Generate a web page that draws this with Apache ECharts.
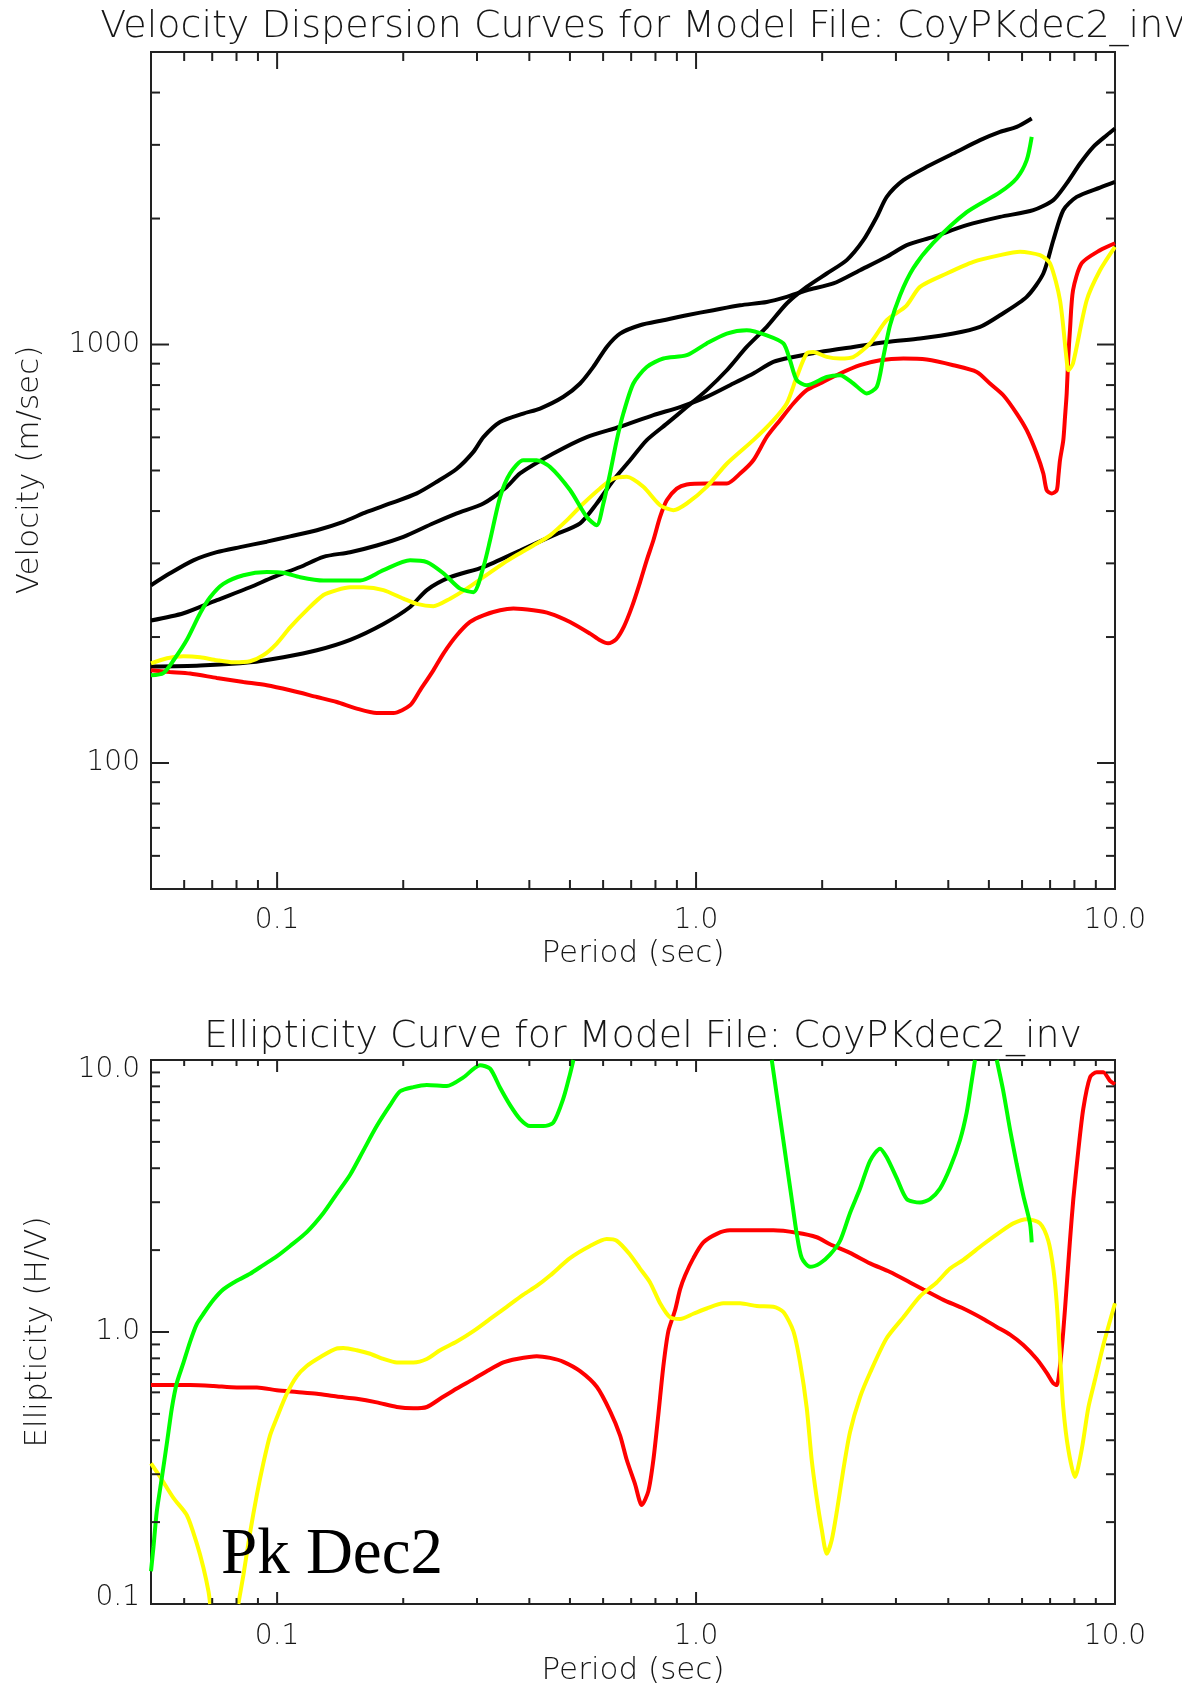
<!DOCTYPE html>
<html>
<head>
<meta charset="utf-8">
<title>CoyPKdec2_inv dispersion and ellipticity</title>
<script src="https://cdn.jsdelivr.net/npm/echarts@6/dist/echarts.min.js"></script>
<style>
  html, body { margin: 0; padding: 0; background: #ffffff; }
  #chart { width: 1182px; height: 1685px; }
</style>
</head>
<body>
<div id="chart"></div>
<script>
// ---------------- axis ranges and ticks ----------------
const periodRange = [0.05, 10];
const velocityRange = [50, 5000];
const ellipticityRange = [0.1, 10];

const periodLabelValues = [0.1, 1, 10];
const periodLabelTexts = ['0.1', '1.0', '10.0'];
const periodMinorTicks = [0.06, 0.07, 0.08, 0.09, 0.2, 0.3, 0.4, 0.5, 0.6, 0.7, 0.8, 0.9, 2, 3, 4, 5, 6, 7, 8, 9];

const velocityLabelValues = [100, 1000];
const velocityLabelTexts = ['100', '1000'];
const velocityMinorTicks = [60, 70, 80, 90, 200, 300, 400, 500, 600, 700, 800, 900, 2000, 3000, 4000];

const ellipLabelValues = [0.1, 1, 10];
const ellipLabelTexts = ['0.1', '1.0', '10.0'];
const ellipMinorTicks = [0.2, 0.3, 0.4, 0.5, 0.6, 0.7, 0.8, 0.9, 2, 3, 4, 5, 6, 7, 8, 9];

// ---------------- dispersion curves: [period s, velocity m/s] ----------------
const dispBlackA = [[0.05,266],[0.0555,284],[0.0631,305],[0.0718,319],[0.0816,328],[0.0945,338],[0.1074,348],[0.1244,360],[0.1439,377],[0.1637,398],[0.1861,417],[0.2155,441],[0.2405,470],[0.2685,505],[0.2941,554],[0.3107,601],[0.3406,653],[0.387,684],[0.4243,703],[0.4824,750],[0.5287,807],[0.5686,884],[0.6121,987],[0.6585,1062],[0.7349,1112],[0.8356,1143],[0.95,1175],[1.10,1208],[1.274,1241],[1.475,1264],[1.646,1300],[1.837,1348],[2.127,1399],[2.463,1505],[2.852,1620],[3.184,1727],[3.684,1808],[4.427,1928],[5.316,2018],[6.383,2094],[7.124,2213],[7.668,2426],[8.253,2708],[8.876,2968],[9.555,3164],[10,3283]];

const dispBlackB = [[0.05,219],[0.0598,228],[0.0718,245],[0.0862,263],[0.098,278],[0.1135,294],[0.129,311],[0.1494,319],[0.1729,331],[0.2002,347],[0.236,374],[0.2685,395],[0.3107,417],[0.3533,457],[0.380,492],[0.4564,549],[0.5485,601],[0.6585,636],[0.791,678],[0.9158,709],[1.060,750],[1.227,807],[1.370,853],[1.529,909],[1.707,934],[1.976,960],[2.374,987],[2.852,1014],[3.424,1034],[4.113,1062],[4.763,1102],[5.316,1175],[6.155,1300],[6.744,1478],[7.124,1775],[7.526,2094],[8.102,2253],[9.209,2372],[10,2447]];

const dispBlackC = [[0.05,170],[0.0655,171],[0.0862,174],[0.1035,179],[0.1244,186],[0.1494,197],[0.1794,215],[0.2077,236],[0.2277,259],[0.2588,278],[0.3107,294],[0.380,322],[0.4564,350],[0.5287,374],[0.5794,417],[0.6348,474],[0.6958,529],[0.7627,591],[0.8514,647],[0.950,709],[1.060,778],[1.184,868],[1.321,987],[1.475,1102],[1.646,1253],[1.837,1373],[2.051,1478],[2.289,1591],[2.508,1775],[2.700,2018],[2.852,2253],[3.125,2470],[3.553,2658],[4.113,2860],[4.763,3078],[5.316,3222],[5.827,3312],[6.327,3469]];

const dispRed = [[0.05,166.5],[0.0555,165],[0.062,163.6],[0.0718,159.7],[0.0831,156.2],[0.0945,153.4],[0.1074,149.2],[0.1244,143.8],[0.1388,139.9],[0.1549,134.9],[0.1729,131.7],[0.1895,131.7],[0.2077,137.4],[0.2194,149.2],[0.236,166.5],[0.2494,182.6],[0.2685,201.9],[0.2888,217.3],[0.3107,225.4],[0.3406,231.7],[0.3664,233.9],[0.4089,231.7],[0.4483,227.6],[0.5003,217.3],[0.5585,203.8],[0.590,196.5],[0.6166,193.2],[0.6443,197.5],[0.6732,212.2],[0.7035,236.8],[0.7349,270.3],[0.7627,305.4],[0.791,340.7],[0.8205,387.3],[0.8514,424.5],[0.8994,452.7],[0.950,462.9],[1.060,465.4],[1.184,465.4],[1.274,491.7],[1.370,529],[1.475,601.4],[1.586,659.3],[1.707,722.8],[1.837,777.7],[1.976,807],[2.207,852.5],[2.463,892.5],[2.749,917.3],[3.125,926],[3.553,920.7],[4.113,892.5],[4.677,860],[5.03,807],[5.413,756.6],[5.827,684],[6.155,624.1],[6.503,548.9],[6.744,491.7],[6.871,448.6],[7.063,440.5],[7.26,448.6],[7.324,482.6],[7.391,529],[7.526,590.6],[7.598,671.4],[7.668,763.8],[7.736,934],[7.807,1082],[7.94,1348],[8.329,1564],[9.209,1680],[10,1746]];

const dispYellow = [[0.05,173],[0.0546,178],[0.0598,180],[0.0655,179],[0.0718,176],[0.0787,174],[0.0862,175],[0.0927,181],[0.0998,193],[0.1074,211],[0.1177,232],[0.129,252],[0.1388,259],[0.1494,263],[0.1607,263],[0.1794,259],[0.2002,247],[0.2155,240],[0.236,237],[0.2588,247],[0.2836,261],[0.3107,278],[0.3468,300],[0.3733,314],[0.4089,331],[0.4483,350],[0.4913,380],[0.5383,417],[0.590,453],[0.6348,478],[0.6831,483],[0.7484,457],[0.8205,413],[0.8828,402],[0.950,417],[1.060,457],[1.184,519],[1.370,591],[1.529,659],[1.646,723],[1.739,837],[1.837,952],[1.905,960],[2.051,934],[2.207,926],[2.374,934],[2.602,1006],[2.852,1143],[3.171,1235],[3.424,1373],[3.966,1478],[4.591,1576],[5.316,1635],[5.933,1665],[6.622,1635],[6.996,1564],[7.391,1276],[7.668,917],[7.736,868],[7.94,902],[8.56,1276],[9.209,1505],[10,1712]];

const dispGreen = [[0.05,162],[0.0535,164],[0.0566,176],[0.0609,197],[0.0655,228],[0.0692,249],[0.0744,268],[0.0831,281],[0.0945,286],[0.1035,285],[0.1135,278],[0.129,273],[0.1578,273],[0.1794,289],[0.2077,305],[0.2277,302],[0.2494,284],[0.2734,261],[0.2941,256],[0.3107,294],[0.3224,341],[0.3406,432],[0.3598,492],[0.387,529],[0.4166,529],[0.4483,510],[0.5003,449],[0.5485,387],[0.5794,370],[0.6008,417],[0.6233,492],[0.6467,591],[0.6705,684],[0.7085,807],[0.7627,884],[0.8356,926],[0.950,943],[1.060,1006],[1.184,1062],[1.321,1082],[1.475,1052],[1.616,1006],[1.676,917],[1.739,822],[1.837,799],[2.051,837],[2.207,845],[2.374,807],[2.555,764],[2.700,792],[2.799,934],[2.904,1112],[3.069,1312],[3.301,1522],[3.678,1746],[4.427,2071],[5.316,2312],[5.827,2497],[6.155,2758],[6.327,3135]];

// ---------------- ellipticity curves: [period s, H/V] ----------------
const ellipRed = [[0.05,0.638],[0.0555,0.638],[0.062,0.638],[0.0705,0.633],[0.0801,0.625],[0.0895,0.625],[0.0998,0.611],[0.1114,0.602],[0.1244,0.593],[0.1388,0.579],[0.1549,0.568],[0.1729,0.551],[0.1931,0.530],[0.2115,0.524],[0.2277,0.530],[0.2449,0.568],[0.2685,0.620],[0.2941,0.671],[0.3166,0.718],[0.3468,0.773],[0.3733,0.796],[0.4166,0.815],[0.4483,0.803],[0.4824,0.777],[0.5287,0.718],[0.5794,0.629],[0.6233,0.512],[0.6585,0.417],[0.6831,0.339],[0.7151,0.276],[0.742,0.231],[0.7694,0.260],[0.791,0.339],[0.8128,0.497],[0.8356,0.750],[0.8588,1.007],[0.891,1.202],[0.9158,1.434],[0.9413,1.613],[0.9853,1.869],[1.041,2.134],[1.121,2.296],[1.205,2.365],[1.346,2.365],[1.529,2.365],[1.739,2.317],[1.941,2.230],[2.088,2.102],[2.331,1.953],[2.602,1.788],[2.904,1.661],[3.241,1.521],[3.487,1.434],[3.893,1.313],[4.345,1.220],[4.850,1.117],[5.221,1.044],[5.616,0.978],[6.041,0.896],[6.503,0.796],[6.871,0.708],[7.124,0.648],[7.26,0.638],[7.391,0.750],[7.526,1.007],[7.668,1.477],[7.807,2.165],[7.953,3.082],[8.174,4.653],[8.401,6.626],[8.716,8.632],[9.045,9.022],[9.378,9.022],[9.730,8.381],[10,8.136]];

const ellipYellowShort = [[0.05,0.329],[0.0526,0.293],[0.0566,0.245],[0.0609,0.212],[0.0643,0.167],[0.0667,0.136],[0.0686,0.111],[0.0692,0.1]];

const ellipYellow = [[0.0808,0.1],[0.0831,0.128],[0.0862,0.183],[0.0895,0.253],[0.0927,0.329],[0.0962,0.417],[0.0998,0.483],[0.1055,0.593],[0.1114,0.687],[0.1177,0.750],[0.1266,0.808],[0.1388,0.870],[0.1439,0.873],[0.1549,0.857],[0.1667,0.832],[0.1794,0.796],[0.1931,0.773],[0.2115,0.773],[0.2277,0.796],[0.2449,0.857],[0.2685,0.922],[0.2941,1.007],[0.3224,1.117],[0.3533,1.238],[0.387,1.372],[0.4166,1.477],[0.4483,1.613],[0.5003,1.869],[0.5585,2.072],[0.6121,2.197],[0.6467,2.165],[0.6958,1.924],[0.7349,1.711],[0.7766,1.521],[0.8205,1.275],[0.8667,1.133],[0.9158,1.117],[0.9853,1.167],[1.060,1.220],[1.162,1.275],[1.274,1.275],[1.396,1.245],[1.529,1.238],[1.616,1.184],[1.707,1.007],[1.771,0.773],[1.837,0.527],[1.888,0.339],[1.941,0.245],[1.995,0.188],[2.051,0.153],[2.108,0.172],[2.167,0.218],[2.246,0.311],[2.331,0.429],[2.463,0.576],[2.602,0.708],[2.852,0.950],[3.125,1.133],[3.424,1.352],[3.753,1.521],[4.039,1.711],[4.345,1.842],[4.850,2.102],[5.316,2.330],[5.719,2.508],[6.155,2.598],[6.622,2.508],[6.931,2.165],[7.124,1.711],[7.26,1.275],[7.391,0.820],[7.526,0.527],[7.736,0.370],[8.026,0.293],[8.329,0.370],[8.637,0.527],[8.959,0.667],[9.378,0.896],[9.730,1.100],[10,1.275]];

const ellipGreenLow = [[0.05,0.132],[0.0507,0.163],[0.0516,0.218],[0.0531,0.293],[0.0546,0.393],[0.0561,0.527],[0.0576,0.648],[0.0598,0.773],[0.062,0.922],[0.0643,1.069],[0.0667,1.167],[0.0705,1.313],[0.0744,1.434],[0.0801,1.543],[0.0862,1.637],[0.0927,1.762],[0.0998,1.897],[0.1074,2.072],[0.1177,2.330],[0.129,2.740],[0.1388,3.221],[0.1494,3.787],[0.1607,4.653],[0.1729,5.716],[0.1861,6.823],[0.1966,7.674],[0.2115,7.951],[0.2277,8.091],[0.2541,8.020],[0.2784,8.632],[0.3051,9.568],[0.3224,9.292],[0.3406,7.905],[0.3598,6.823],[0.380,6.064],[0.4016,5.716],[0.432,5.716],[0.4564,5.888],[0.4824,7.236],[0.5003,8.889],[0.5096,10]];

const ellipGreenMid = [[1.516,10],[1.558,7.451],[1.602,5.552],[1.646,4.137],[1.692,3.082],[1.739,2.296],[1.788,1.869],[1.871,1.736],[1.976,1.788],[2.088,1.924],[2.207,2.165],[2.331,2.740],[2.463,3.367],[2.602,4.261],[2.749,4.722],[2.852,4.387],[3.013,3.678],[3.184,3.082],[3.424,2.992],[3.618,3.082],[3.822,3.367],[4.039,4.016],[4.267,5.082],[4.427,6.434],[4.550,8.381],[4.633,10]];

const ellipGreenHigh = [[5.221,10],[5.413,7.674],[5.616,5.552],[5.827,4.137],[6.041,3.175],[6.268,2.508],[6.327,2.134]];

// ---------------- styling ----------------
const FRAME = '#222222';
const INK = '#161616';
const SANS = '"DejaVu Sans", "Liberation Sans", sans-serif';
const RED = '#ff0000', YELLOW = '#ffff00', GREEN = '#00ff00', BLACK = '#000000';
const CURVE_WIDTH = 4;

function isSame(a, b) {
  return Math.abs(Math.log10(a) - Math.log10(b)) < 1e-6;
}

// Decade labels; other ticks (the range ends) stay blank.
function decadeFormatter(values, texts, nudgeEnds) {
  return function (v) {
    for (let i = 0; i < values.length; i++) {
      if (isSame(v, values[i])) {
        if (nudgeEnds && i === 0) return '{lo|' + texts[i] + '}';
        if (nudgeEnds && i === values.length - 1) return '{hi|' + texts[i] + '}';
        return texts[i];
      }
    }
    return '';
  };
}

const labelFont = { fontFamily: SANS, fontSize: 28, fontWeight: 200, color: INK };

function logAxis(gridIndex, range, formatter, margin, rich) {
  return {
    type: 'log', logBase: 10, gridIndex,
    min: range[0], max: range[1],
    axisLine: { show: false },
    axisTick: { show: false },
    splitLine: { show: false },
    minorTick: { show: false },
    axisLabel: Object.assign({ formatter, margin, rich: rich || {} }, labelFont)
  };
}

// Inward-pointing ticks on both opposite edges of a plot frame.
function tickMarks(gridIndex, values, along, len, fixedValue) {
  return {
    type: 'custom', xAxisIndex: gridIndex, yAxisIndex: gridIndex,
    silent: true, animation: false, z: 20, clip: false,
    data: values.map(v => along === 'x' ? [v, fixedValue] : [fixedValue, v]),
    renderItem(params, api) {
      const r = params.coordSys;
      const p = api.coord([api.value(0), api.value(1)]);
      const st = { stroke: FRAME, lineWidth: 2 };
      if (along === 'x') {
        const x = p[0];
        const yb = r.y + r.height, yt = r.y;
        return { type: 'group', children: [
          { type: 'line', shape: { x1: x, y1: yb, x2: x, y2: yb - len }, style: st },
          { type: 'line', shape: { x1: x, y1: yt, x2: x, y2: yt + len }, style: st }
        ] };
      }
      const y = p[1];
      const xl = r.x, xr = r.x + r.width;
      return { type: 'group', children: [
        { type: 'line', shape: { x1: xl, y1: y, x2: xl + len, y2: y }, style: st },
        { type: 'line', shape: { x1: xr, y1: y, x2: xr - len, y2: y }, style: st }
      ] };
    }
  };
}

function curve(name, gridIndex, data, color, z) {
  return {
    name, type: 'line', xAxisIndex: gridIndex, yAxisIndex: gridIndex,
    data, symbol: 'none', showSymbol: false, smooth: 0.25,
    lineStyle: { color, width: CURVE_WIDTH }, itemStyle: { color },
    z, silent: true, animation: false, clip: true
  };
}

function label(text, x, y, size, extra) {
  return Object.assign({
    type: 'text', x, y, silent: true,
    style: {
      text, font: '200 ' + size + 'px ' + SANS, fill: INK,
      align: 'center', verticalAlign: 'middle',
      textAlign: 'center', textVerticalAlign: 'middle'
    }
  }, extra || {});
}

const chart = echarts.init(document.getElementById('chart'), null, { renderer: 'canvas' });

chart.setOption({
  animation: false,
  backgroundColor: '#ffffff',
  grid: [
    { left: 151, top: 52, width: 964, height: 837, show: true, borderColor: FRAME, borderWidth: 2, backgroundColor: 'transparent', containLabel: false, outerBoundsMode: 'none' },
    { left: 151, top: 1060, width: 964, height: 544, show: true, borderColor: FRAME, borderWidth: 2, backgroundColor: 'transparent', containLabel: false, outerBoundsMode: 'none' }
  ],
  xAxis: [
    logAxis(0, periodRange, decadeFormatter(periodLabelValues, periodLabelTexts, false), 18),
    logAxis(1, periodRange, decadeFormatter(periodLabelValues, periodLabelTexts, false), 19)
  ],
  yAxis: [
    logAxis(0, velocityRange, decadeFormatter(velocityLabelValues, velocityLabelTexts, false), 11),
    logAxis(1, ellipticityRange, decadeFormatter(ellipLabelValues, ellipLabelTexts, true), 11, {
      hi: Object.assign({ padding: [20, 0, 0, 0] }, labelFont),
      lo: Object.assign({ padding: [0, 0, 12, 0] }, labelFont)
    })
  ],
  series: [
    // frame ticks
    tickMarks(0, periodLabelValues, 'x', 17, velocityRange[0]),
    tickMarks(0, periodMinorTicks, 'x', 9, velocityRange[0]),
    tickMarks(0, velocityLabelValues, 'y', 18, periodRange[0]),
    tickMarks(0, velocityMinorTicks, 'y', 9, periodRange[0]),
    tickMarks(1, periodLabelValues, 'x', 12, ellipticityRange[0]),
    tickMarks(1, periodMinorTicks, 'x', 6, ellipticityRange[0]),
    tickMarks(1, ellipLabelValues, 'y', 18, periodRange[0]),
    tickMarks(1, ellipMinorTicks, 'y', 9, periodRange[0]),
    // velocity dispersion
    curve('mode A', 0, dispBlackA, BLACK, 2),
    curve('mode B', 0, dispBlackB, BLACK, 2),
    curve('mode C', 0, dispBlackC, BLACK, 2),
    curve('red', 0, dispRed, RED, 3),
    curve('yellow', 0, dispYellow, YELLOW, 4),
    curve('green', 0, dispGreen, GREEN, 5),
    // ellipticity
    curve('red', 1, ellipRed, RED, 3),
    curve('yellow', 1, ellipYellowShort, YELLOW, 4),
    curve('yellow', 1, ellipYellow, YELLOW, 4),
    curve('green', 1, ellipGreenLow, GREEN, 5),
    curve('green', 1, ellipGreenMid, GREEN, 5),
    curve('green', 1, ellipGreenHigh, GREEN, 5)
  ],
  graphic: [
    label('Velocity Dispersion Curves for Model File: CoyPKdec2_inv', 643, 27, 38),
    label('Period (sec)', 633, 954, 31),
    label('Velocity (m/sec)', 30, 470, 31, { rotation: Math.PI / 2 }),
    label('Ellipticity Curve for Model File: CoyPKdec2_inv', 643, 1037, 38),
    label('Period (sec)', 633, 1671, 31),
    label('Ellipticity (H/V)', 38, 1332, 31, { rotation: Math.PI / 2 }),
    {
      type: 'text', x: 221, y: 1556, silent: true, z: 50,
      style: {
        text: 'Pk Dec2', font: '65px "Liberation Serif", "Times New Roman", serif', fill: '#000000',
        align: 'left', verticalAlign: 'middle', textAlign: 'left', textVerticalAlign: 'middle'
      }
    }
  ]
});
</script>
</body>
</html>
